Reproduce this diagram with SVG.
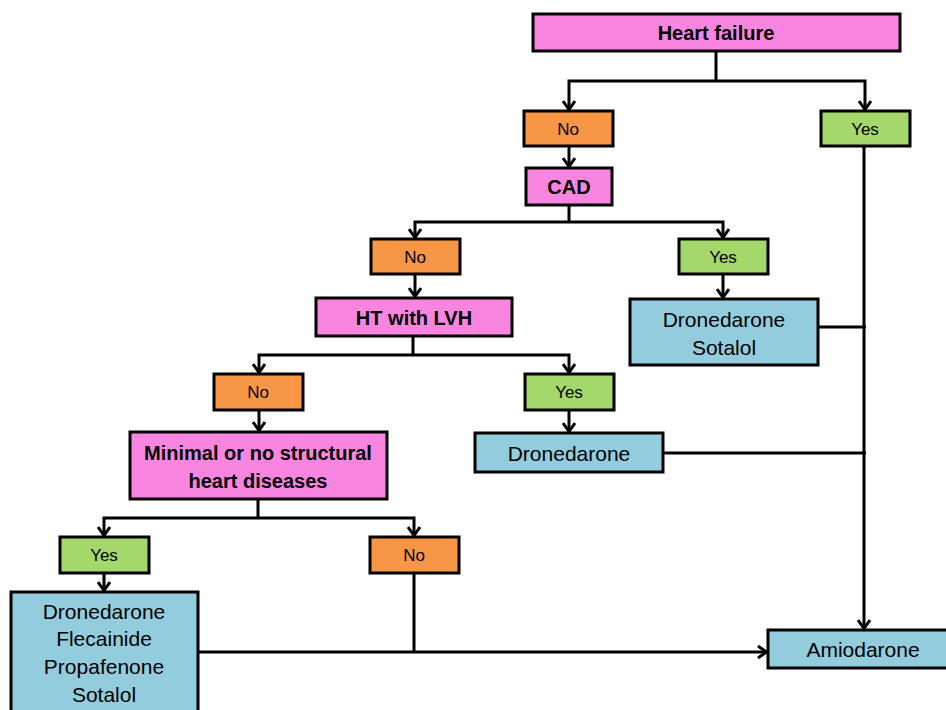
<svg xmlns="http://www.w3.org/2000/svg" width="946" height="710" viewBox="0 0 946 710">
<style>
.box{stroke:#000;stroke-width:3}
.pink{fill:#F886E0}
.orange{fill:#F79646}
.green{fill:#A5D86B}
.blue{fill:#93CDDD}
text{font-family:"Liberation Sans",Arial,sans-serif;fill:#000;text-anchor:middle;dominant-baseline:central}
.b{font-weight:bold;font-size:20px}
.s{font-size:17px}
.r{font-size:21px}
.c{fill:none;stroke:#000;stroke-width:3}
</style>
<defs>
<marker id="ah" markerUnits="userSpaceOnUse" viewBox="0 0 14 14" refX="11.5" refY="7" markerWidth="14" markerHeight="14" orient="auto">
<path d="M2.5,1 L11,7 L2.5,13" fill="none" stroke="#000" stroke-width="3"/>
</marker>
</defs>
<rect width="946" height="710" fill="#fff"/>
<g id="connectors">
<path class="c" d="M716,51 V81"/>
<path class="c" d="M716,81 H569 V110" marker-end="url(#ah)"/>
<path class="c" d="M716,81 H865 V110" marker-end="url(#ah)"/>
<path class="c" d="M569,146 V167" marker-end="url(#ah)"/>
<path class="c" d="M569,205 V222"/>
<path class="c" d="M569,222 H415 V238" marker-end="url(#ah)"/>
<path class="c" d="M569,222 H723 V238" marker-end="url(#ah)"/>
<path class="c" d="M415,274 V297" marker-end="url(#ah)"/>
<path class="c" d="M723,274 V298" marker-end="url(#ah)"/>
<path class="c" d="M818,327 H866"/>
<path class="c" d="M413,336 V355"/>
<path class="c" d="M413,355 H259 V373" marker-end="url(#ah)"/>
<path class="c" d="M413,355 H569 V373" marker-end="url(#ah)"/>
<path class="c" d="M569,410 V432" marker-end="url(#ah)"/>
<path class="c" d="M663,453 H866"/>
<path class="c" d="M259,410 V431" marker-end="url(#ah)"/>
<path class="c" d="M258,499 V518"/>
<path class="c" d="M258,518 H104 V536" marker-end="url(#ah)"/>
<path class="c" d="M258,518 H414 V536" marker-end="url(#ah)"/>
<path class="c" d="M104,573 V591" marker-end="url(#ah)"/>
<path class="c" d="M414,573 V652"/>
<path class="c" d="M198,652 H767" marker-end="url(#ah)"/>
<path class="c" d="M864,146 V629" marker-end="url(#ah)"/>
</g>
<g id="heart-failure"><rect class="box pink" x="533" y="14" width="367" height="37"/><text class="b" x="716" y="33">Heart failure</text></g>
<g id="hf-no"><rect class="box orange" x="524" y="111" width="89" height="35"/><text class="s" x="568" y="129">No</text></g>
<g id="hf-yes"><rect class="box green" x="821" y="111" width="89" height="35"/><text class="s" x="865" y="129">Yes</text></g>
<g id="cad"><rect class="box pink" x="526" y="168" width="86" height="37"/><text class="b" x="569" y="187">CAD</text></g>
<g id="cad-no"><rect class="box orange" x="371" y="239" width="89" height="35"/><text class="s" x="415" y="257">No</text></g>
<g id="cad-yes"><rect class="box green" x="679" y="239" width="89" height="35"/><text class="s" x="723" y="257">Yes</text></g>
<g id="ht-lvh"><rect class="box pink" x="316" y="298" width="196" height="38"/><text class="b" x="414" y="318">HT with LVH</text></g>
<g id="dron-sotalol"><rect class="box blue" x="630" y="299" width="188" height="66"/><text class="r" x="724" y="319">Dronedarone</text><text class="r" x="724" y="347">Sotalol</text></g>
<g id="ht-no"><rect class="box orange" x="214" y="374" width="89" height="36"/><text class="s" x="258" y="392">No</text></g>
<g id="ht-yes"><rect class="box green" x="525" y="374" width="89" height="36"/><text class="s" x="569" y="392">Yes</text></g>
<g id="dronedarone"><rect class="box blue" x="475" y="433" width="188" height="39"/><text class="r" x="569" y="453">Dronedarone</text></g>
<g id="minimal"><rect class="box pink" x="130" y="432" width="257" height="67"/><text class="b" x="258" y="453">Minimal or no structural</text><text class="b" x="258" y="481">heart diseases</text></g>
<g id="min-yes"><rect class="box green" x="60" y="537" width="89" height="36"/><text class="s" x="104" y="555">Yes</text></g>
<g id="min-no"><rect class="box orange" x="370" y="537" width="89" height="36"/><text class="s" x="414" y="555">No</text></g>
<g id="drug-list"><rect class="box blue" x="11" y="592" width="187" height="140"/><text class="r" x="104" y="611">Dronedarone</text><text class="r" x="104" y="638">Flecainide</text><text class="r" x="104" y="666">Propafenone</text><text class="r" x="104" y="694">Sotalol</text></g>
<g id="amiodarone"><rect class="box blue" x="768" y="630" width="200" height="38"/><text class="r" x="863" y="649">Amiodarone</text></g>
</svg>
